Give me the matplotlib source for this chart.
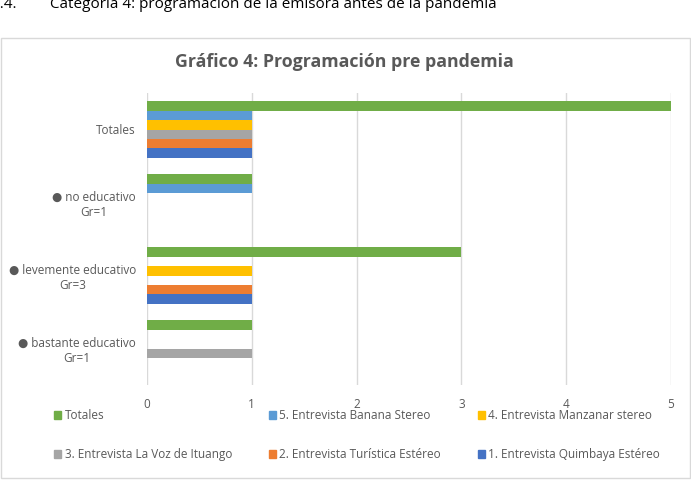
import matplotlib
matplotlib.use("Agg")
import matplotlib.pyplot as plt
import numpy as np
from matplotlib.patches import Rectangle, Patch

plt.rcParams['font.family'] = ['Open Sans', 'DejaVu Sans']

# data
categories = ['● bastante educativo\nGr=1', '● levemente educativo\nGr=3',
              '● no educativo\nGr=1', 'Totales']
series_names = ['1. Entrevista Quimbaya Estéreo', '2. Entrevista Turística Estéreo',
                '3. Entrevista La Voz de Ituango', '4. Entrevista Manzanar stereo',
                '5. Entrevista Banana Stereo', 'Totales']
quimbaya = [0, 1, 0, 1]
turistica = [0, 1, 0, 1]
la_voz = [1, 0, 0, 1]
manzanar = [0, 1, 0, 1]
banana = [0, 0, 1, 1]
totales = [1, 3, 1, 5]
values = [quimbaya, turistica, la_voz, manzanar, banana, totales]
colors = ['#4472C4', '#ED7D31', '#A5A5A5', '#FFC000', '#5B9BD5', '#70AD47']

W, H = 691, 482
fig = plt.figure(figsize=(W / 100, H / 100), dpi=100)

# chart border
fig.patches.append(Rectangle((1 / W, 1 - 478 / H), 689 / W, 440 / H,
                             transform=fig.transFigure, fill=False,
                             edgecolor='#D9D9D9', linewidth=1))

# document text cut at the top
fig.text(-8 / W, 1 - 8 / H, '1.4.', fontsize=11, color='black', va='baseline')
fig.text(50 / W, 1 - 8 / H, 'Categoría 4: programación de la emisora antes de la pandemia',
         fontsize=11, color='black', va='baseline')

ax = fig.add_axes([147 / W, 1 - 385 / H, 524 / W, 292 / H])
y = np.arange(len(categories))
h = 0.128
for i, (vals, c) in enumerate(zip(values, colors)):
    ax.barh(y + (i - 2.5) * h, vals, height=h, color=c, label=series_names[i])

ax.set_xlim(0, 5)
ax.set_ylim(-0.5, 3.5)
ax.set_xticks(range(6))
ax.set_yticks(y)
ax.set_yticklabels(categories, multialignment='center')
ax.tick_params(length=0, labelsize=8.5, colors='#595959')
ax.tick_params(axis='x', pad=9)
ax.tick_params(axis='y', pad=8)
ax.grid(axis='x', color='#D9D9D9', linewidth=1)
ax.set_axisbelow(True)
for s in ax.spines.values():
    s.set_visible(False)

fig.text(344 / W, 1 - 62 / H, 'Gráfico 4: Programación pre pandemia', ha='center',
         va='center', fontsize=12.8, fontweight='bold', color='#595959')

# legend, filled column by column
order = [5, 2, 4, 1, 3, 0]
handles = [Patch(color=colors[k]) for k in order]
labels = [series_names[k] for k in order]
leg = fig.legend(handles, labels, ncol=3, loc='upper left',
                 bbox_to_anchor=(54 / W, 1 - 472 / H, 606 / W, 63 / H), mode='expand',
                 frameon=False, fontsize=8.5, handlelength=0.6, handleheight=0.6,
                 handletextpad=0.3, labelspacing=2.2, borderaxespad=0, borderpad=0)
for t in leg.get_texts():
    t.set_color('#595959')

fig.savefig('out.png', dpi=100)
